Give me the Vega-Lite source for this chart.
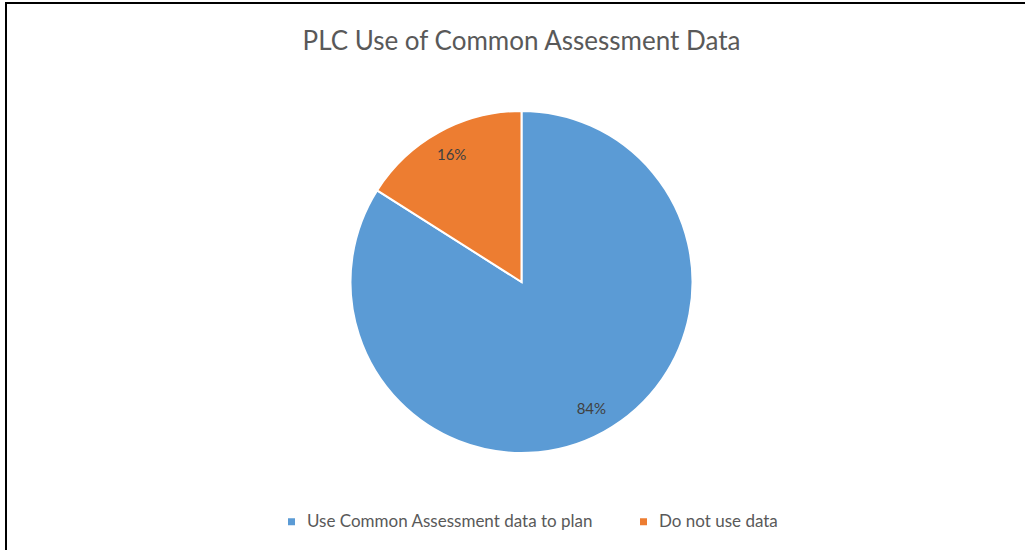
{
  "$schema": "https://vega.github.io/schema/vega-lite/v6.json",
  "width": 1031,
  "height": 558,
  "autosize": {"type": "none"},
  "padding": {"left": 6, "top": 3, "right": -12, "bottom": -11},
  "background": "white",
  "view": {"stroke": "black", "strokeWidth": 2},
  "config": {
    "font": "Lato"
  },
  "title": {
    "text": "PLC Use of Common Assessment Data",
    "offset": -52,
    "font": "Lato",
    "fontSize": 26,
    "fontWeight": "normal",
    "color": "#595959",
    "anchor": "middle"
  },
  "data": {
    "values": [
      {"category": "Use Common Assessment data to plan", "share": 0.84},
      {"category": "Do not use data", "share": 0.16}
    ]
  },
  "encoding": {
    "theta": {"field": "share", "type": "quantitative", "stack": true},
    "order": {"field": "share", "type": "quantitative", "sort": "descending"}
  },
  "layer": [
    {
      "mark": {"type": "arc", "radius": 171, "stroke": "white", "strokeWidth": 2},
      "encoding": {
        "color": {
          "field": "category",
          "type": "nominal",
          "sort": ["Use Common Assessment data to plan", "Do not use data"],
          "scale": {
            "domain": ["Use Common Assessment data to plan", "Do not use data"],
            "range": ["#5B9BD5", "#ED7D31"]
          },
          "legend": {
            "title": null,
            "orient": "none",
            "direction": "horizontal",
            "legendX": 277,
            "legendY": 510,
            "symbolType": "square",
            "symbolSize": 49,
            "symbolStrokeWidth": 0,
            "labelFont": "Lato",
            "labelFontSize": 17,
            "labelLimit": 500,
            "labelColor": "#595959",
            "labelOffset": 7,
            "columnPadding": 41
          }
        }
      }
    },
    {
      "mark": {"type": "text", "radius": 145, "font": "Lato", "fontSize": 15, "fill": "#404040"},
      "encoding": {
        "text": {"field": "share", "type": "quantitative", "format": ".0%"}
      }
    }
  ]
}
